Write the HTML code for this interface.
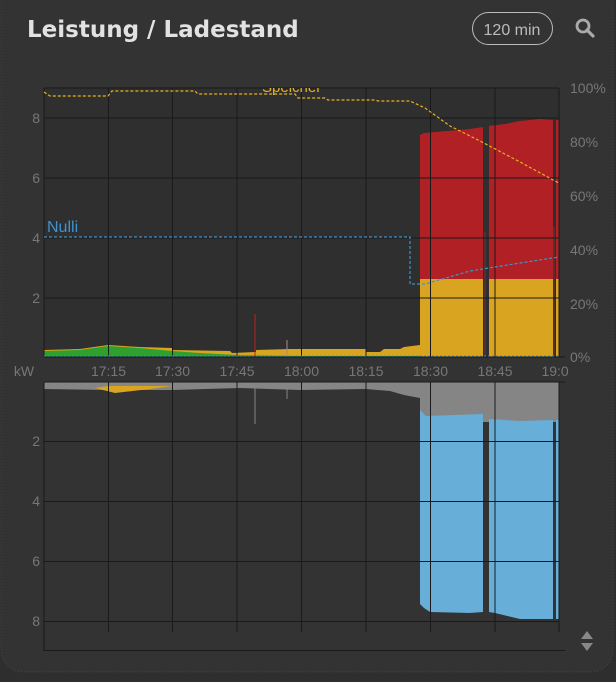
<!DOCTYPE html>
<html><head><meta charset="utf-8"><style>
html,body{margin:0;padding:0;background:#2e2e2e;width:616px;height:682px;overflow:hidden}
svg{display:block}
text{font-family:"Liberation Sans","DejaVu Sans",sans-serif}
</style></head><body>
<svg width="616" height="682" viewBox="0 0 616 682">
<rect x="0" y="0" width="616" height="682" fill="#2e2e2e"/>
<rect x="1" y="-20" width="612" height="692" rx="22" fill="#333333" stroke="#4a4a4a" stroke-dasharray="1 2"/>
<text x="27" y="37" font-size="23" font-weight="bold" fill="#e2e2e2" style="font-family:'DejaVu Sans',sans-serif">Leistung / Ladestand</text>
<rect x="472.5" y="12.5" width="80" height="32" rx="16" fill="none" stroke="#bbb"/>
<text x="512" y="35" font-size="16" fill="#bbb" text-anchor="middle">120 min</text>
<circle cx="583" cy="26" r="6" fill="none" stroke="#aaa" stroke-width="2.8"/>
<line x1="587" y1="30" x2="593" y2="36" stroke="#aaa" stroke-width="3.2" stroke-linecap="round"/>
<rect x="44" y="88" width="515" height="269" fill="#2f2f2f"/>
<!-- yellow base -->
<path d="M44 350 L80 349 L108 345 L140 347 L172 348 L172 350 L230 351 L232 353 L256 352 L256 350 L290 349 L366 349 L366 352 L380 352 L384 349 L400 349 L404 347 L420 345 L420 357 L44 357 Z" fill="#d9a520"/>
<!-- green -->
<path d="M44 357 L44 351 L80 350 L108 346 L140 348 L172 351 L200 353 L237 355 L300 356 L420 356 L420 357 Z" fill="#2ea02e"/>
<line x1="255" y1="357" x2="255" y2="314" stroke="#b22" stroke-width="1"/>
<line x1="287" y1="357" x2="287" y2="340" stroke="#a88" stroke-width="1"/>
<rect x="420" y="279" width="63" height="78" fill="#d9a520"/>
<rect x="489" y="279" width="64" height="78" fill="#d9a520"/>
<rect x="556" y="279" width="3" height="78" fill="#d9a520"/>
<path d="M420 279 L420 135 L424 133 L470 129 L483 127 L483 279 Z" fill="#b02024"/>
<path d="M489 279 L489 126 L505 124 L520 121 L540 119 L553 120 L553 279 Z" fill="#b02024"/>
<rect x="556" y="120" width="3" height="159" fill="#b02024"/>
<line x1="485" y1="357" x2="485" y2="232" stroke="#7a3030" stroke-width="1"/>
<line x1="554" y1="357" x2="554" y2="227" stroke="#7a3030" stroke-width="1"/>
<g stroke="#1a1a1a" stroke-width="1">
<line x1="44" y1="88" x2="559" y2="88"/>
<line x1="44" y1="118" x2="559" y2="118"/><line x1="44" y1="178" x2="559" y2="178"/>
<line x1="44" y1="238" x2="559" y2="238"/><line x1="44" y1="298" x2="559" y2="298"/>
<line x1="44" y1="357" x2="565" y2="357"/>
<line x1="44" y1="88" x2="44" y2="357"/>
<line x1="108.5" y1="88" x2="108.5" y2="357"/><line x1="172.5" y1="88" x2="172.5" y2="357"/>
<line x1="237" y1="88" x2="237" y2="357"/><line x1="301.5" y1="88" x2="301.5" y2="357"/>
<line x1="366" y1="88" x2="366" y2="357"/><line x1="430.5" y1="88" x2="430.5" y2="357"/>
<line x1="495" y1="88" x2="495" y2="357"/><line x1="559" y1="88" x2="559" y2="357"/>
</g>
<path d="M44 92 L50 96 L108 96 L112 91 L195 91 L198 94 L295 94 L298 98 L325 98 L328 100 L375 100 L378 101 L410 101 L425 108 L450 126 L480 141 L520 162 L555 181 L559 183" fill="none" stroke="#e6b020" stroke-width="1.2" stroke-dasharray="3 2"/>
<path d="M44 237 L410 237 L410 284 L425 284 L470 271 L520 263 L559 257" fill="none" stroke="#3a95cf" stroke-width="1.2" stroke-dasharray="3 2"/>
<line x1="44" y1="356" x2="559" y2="356" stroke="#3a95cf" stroke-width="1" stroke-dasharray="2 2"/>
<text x="47" y="232" font-size="16" fill="#3a95cf">Nulli</text>
<clipPath id="c1"><rect x="0" y="88" width="616" height="10"/></clipPath>
<text x="262" y="92" font-size="15" fill="#e6b020" clip-path="url(#c1)">Speicher</text>
<g font-size="14" fill="#777" text-anchor="end">
<text x="40" y="123">8</text><text x="40" y="183">6</text><text x="40" y="243">4</text><text x="40" y="303">2</text>
</g>
<g font-size="14" fill="#777">
<text x="570" y="93">100%</text><text x="570" y="147">80%</text><text x="570" y="201">60%</text>
<text x="570" y="255">40%</text><text x="570" y="309">20%</text><text x="570" y="362">0%</text>
</g>
<clipPath id="c2"><rect x="0" y="360" width="568" height="20"/></clipPath>
<g font-size="14" fill="#777" text-anchor="middle">
<text x="24" y="376">kW</text>
<text x="108.5" y="376">17:15</text><text x="172.5" y="376">17:30</text><text x="237" y="376">17:45</text>
<text x="301.5" y="376">18:00</text><text x="366" y="376">18:15</text><text x="430.5" y="376">18:30</text>
<text x="495" y="376">18:45</text><text x="559" y="376" clip-path="url(#c2)">19:00</text>
</g>
<path d="M44 382 L420 382 L420 398 L404 395 L390 391 L366 389 L300 390 L240 388 L172 390 L108 390 L44 389 Z" fill="#858585"/>
<path d="M95 388 L108 386 L172 386 L150 389 L115 393 Z" fill="#d9a520"/>
<line x1="255" y1="388" x2="255" y2="424" stroke="#858585"/>
<line x1="287" y1="388" x2="287" y2="399" stroke="#858585"/>
<rect x="420" y="382" width="139" height="40" fill="#858585"/>
<path d="M420 410 L426 416 L483 414 L483 612 L470 613 L430 612 L424 608 L420 604 Z" fill="#67aed8"/>
<path d="M489 419 L520 421 L553 420 L553 619 L520 619 L495 613 L489 612 Z" fill="#67aed8"/>
<rect x="556" y="420" width="3" height="199" fill="#67aed8"/>
<g stroke="#1a1a1a" stroke-width="1">
<line x1="44" y1="382" x2="565" y2="382"/>
<line x1="44" y1="441.5" x2="559" y2="441.5"/><line x1="44" y1="501.5" x2="559" y2="501.5"/>
<line x1="44" y1="561.5" x2="559" y2="561.5"/><line x1="44" y1="621.5" x2="559" y2="621.5"/>
<line x1="44" y1="650.5" x2="565" y2="650.5"/>
<line x1="44" y1="382" x2="44" y2="651"/>
<line x1="108.5" y1="382" x2="108.5" y2="632"/><line x1="172.5" y1="382" x2="172.5" y2="632"/>
<line x1="237" y1="382" x2="237" y2="632"/><line x1="301.5" y1="382" x2="301.5" y2="632"/>
<line x1="366" y1="382" x2="366" y2="632"/><line x1="430.5" y1="382" x2="430.5" y2="632"/>
<line x1="495" y1="382" x2="495" y2="632"/><line x1="559" y1="382" x2="559" y2="632"/>
</g>
<g font-size="14" fill="#777" text-anchor="end">
<text x="40" y="446">2</text><text x="40" y="506">4</text><text x="40" y="566">6</text><text x="40" y="626">8</text>
</g>
<path d="M587 631 L593 639 L581 639 Z" fill="#888"/>
<path d="M581 643 L593 643 L587 651 Z" fill="#888"/>
</svg>
</body></html>
